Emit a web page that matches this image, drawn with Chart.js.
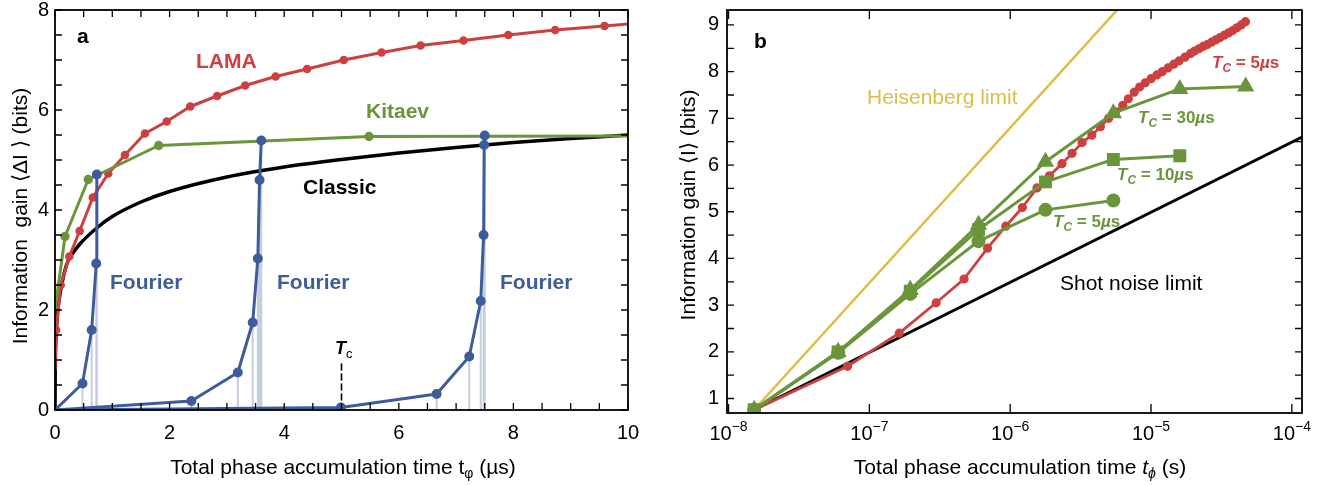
<!DOCTYPE html>
<html>
<head>
<meta charset="utf-8">
<title>Information gain vs total phase accumulation time</title>
<script src="https://cdn.jsdelivr.net/npm/chart.js@4.4.1/dist/chart.umd.min.js"></script>
<style>
    body { margin: 0; background: #fff; }
    #wrap { position: relative; width: 1340px; height: 485px; }
    canvas { position: absolute; top: 0; }
    #chart-a { left: 0; }
    #chart-b { left: 660px; }
</style>
</head>
<body>
<div id="wrap">
    <canvas id="chart-a" width="660" height="485"></canvas>
    <canvas id="chart-b" width="680" height="485"></canvas>
</div>
<script>
// ---- panel a data (time in µs, gain in bits) ----
const classicT    = [0, 0.005, 0.02, 0.05, 0.1, 0.2, 0.3, 0.45, 0.75, 1, 1.5, 2, 3, 4, 5, 6, 7, 8, 9, 10];
const classicGain = [0, 0.9, 1.5, 2.0, 2.4, 2.9, 3.12, 3.34, 3.66, 3.87, 4.16, 4.37, 4.66, 4.86, 5.01, 5.14, 5.25, 5.35, 5.43, 5.5];

const lamaT    = [0, 0.02, 0.1, 0.25, 0.43, 0.66, 0.93, 1.22, 1.57, 1.95, 2.36, 2.83, 3.32, 3.85, 4.4, 5.04, 5.7, 6.38, 7.13, 7.91, 8.73, 9.59, 10];
const lamaGain = [0.8, 1.6, 2.5, 3.07, 3.58, 4.25, 4.73, 5.1, 5.53, 5.77, 6.07, 6.28, 6.49, 6.67, 6.82, 7.0, 7.15, 7.29, 7.39, 7.5, 7.6, 7.68, 7.72];

const kitaevT    = [0, 0.175, 0.58, 1.81, 5.48, 10];
const kitaevGain = [2.0, 3.47, 4.61, 5.29, 5.47, 5.48];

const fourier1T    = [0, 0.48, 0.64, 0.72, 0.73];
const fourier1Gain = [0, 0.53, 1.6, 2.93, 4.71];
const fourier2T    = [0, 2.38, 3.19, 3.45, 3.54, 3.57, 3.6];
const fourier2Gain = [0, 0.18, 0.75, 1.75, 3.03, 4.6, 5.39];
const fourier3T    = [0, 4.99, 6.66, 7.23, 7.43, 7.48, 7.49, 7.5];
const fourier3Gain = [0, 0.05, 0.32, 1.07, 2.18, 3.5, 5.3, 5.49];

const tcTime = 5;
const tcMarkTop = 1.0;

// ---- panel b data (time in s, gain in bits) ----
const heisenbergT    = [1.52e-8, 1e-5];
const heisenbergGain = [0.76, 10.12];
const shotT    = [1.52e-8, 1.2e-4];
const shotGain = [0.76, 6.61];

const lamaBT = [1.52e-8, 7.0e-8, 1.63e-7, 2.98e-7, 4.7e-7, 6.9e-7, 9.3e-7, 1.22e-6, 1.55e-6, 1.9e-6,
    2.33e-6, 2.75e-6, 3.24e-6, 3.8e-6, 4.37e-6, 5.0e-6, 5.6e-6, 6.3e-6, 6.9e-6, 7.6e-6,
    8.3e-6, 9.1e-6, 1.0e-5, 1.1e-5, 1.2e-5, 1.32e-5, 1.45e-5, 1.58e-5, 1.74e-5, 1.91e-5,
    2.04e-5, 2.19e-5, 2.34e-5, 2.51e-5, 2.69e-5, 2.88e-5, 3.09e-5, 3.31e-5, 3.55e-5, 3.80e-5,
    4.07e-5, 4.37e-5, 4.68e-5];
const lamaBGain = [0.76, 1.69, 2.40, 3.05, 3.56, 4.22, 4.69, 5.09, 5.51, 5.77,
    6.03, 6.25, 6.48, 6.64, 6.82, 7.0, 7.14, 7.28, 7.42, 7.56,
    7.67, 7.76, 7.85, 7.93, 8.0, 8.08, 8.16, 8.23, 8.31, 8.39,
    8.44, 8.49, 8.54, 8.58, 8.63, 8.68, 8.73, 8.78, 8.83, 8.88,
    8.94, 9.0, 9.07];

const kitaevBT  = [1.52e-8, 6.0e-8, 1.95e-7, 5.96e-7, 1.78e-6, 5.4e-6, 1.6e-5, 4.7e-5];
const tc30Gain  = [0.76, 2.0, 3.33, 4.72, 6.07, 7.11, 7.63, 7.68];
const tc10Gain  = [0.76, 2.0, 3.3, 4.62, 5.64, 6.12, 6.2];
const tc5Gain   = [0.76, 1.98, 3.24, 4.37, 5.04, 5.24];

const decadeExponents = [-8, -7, -6, -5, -4];

// ---- look ----
const FONT = '"Liberation Sans", Arial, Helvetica, sans-serif';
const RED = '#cc4040';
const GREEN = '#6a953b';
const BLUE = '#3e5c9a';
const YELLOW = '#dcbd45';
const DROP = 'rgba(62, 92, 154, 0.3)';

Chart.defaults.font.family = FONT;
Chart.defaults.color = '#000';

const pts = (xs, ys) => ys.map((y, i) => ({ x: xs[i], y }));
const font = (size, style = '') => `${style} ${size}px ${FONT}`.trim();

// draw a run of text pieces (for sub/superscripts) starting at x, baseline y
function richText(ctx, x, y, parts, align = 'left') {
    let w = 0;
    parts.forEach(p => { ctx.font = p.font; w += ctx.measureText(p.t).width; });
    let cx = align === 'center' ? x - w / 2 : x;
    ctx.textAlign = 'left';
    ctx.textBaseline = 'alphabetic';
    parts.forEach(p => {
        ctx.font = p.font;
        ctx.fillText(p.t, cx, y + (p.dy || 0));
        cx += ctx.measureText(p.t).width;
    });
}

function tcLabel(value) {
    return [
        { t: 'T', font: font(17, 'italic bold') },
        { t: 'C', font: font(12, 'italic bold'), dy: 4 },
        { t: ' = ' + value, font: font(17, 'bold') },
        { t: 'µ', font: font(17, 'italic bold') },
        { t: 's', font: font(17, 'bold') }
    ];
}

// box frame with inward ticks on all four sides
function framePlugin(xLen, yLen) {
    return {
        id: 'frame',
        afterDatasetsDraw(chart) {
            const { ctx, chartArea: a, scales: { x, y } } = chart;
            ctx.save();
            ctx.strokeStyle = '#000';
            ctx.lineWidth = 1.3;
            ctx.beginPath();
            x.ticks.forEach(t => {
                const px = x.getPixelForValue(t.value);
                ctx.moveTo(px, a.bottom); ctx.lineTo(px, a.bottom - xLen);
                ctx.moveTo(px, a.top); ctx.lineTo(px, a.top + xLen);
            });
            y.ticks.forEach(t => {
                const py = y.getPixelForValue(t.value);
                ctx.moveTo(a.left, py); ctx.lineTo(a.left + yLen, py);
                ctx.moveTo(a.right, py); ctx.lineTo(a.right - yLen, py);
            });
            ctx.stroke();
            ctx.lineWidth = 1.8;
            ctx.strokeRect(a.left, a.top, a.right - a.left, a.bottom - a.top);
            ctx.restore();
        }
    };
}

function fixedAxis(size, isY) {
    return s => {
        if (isY) s.width = size; else s.height = size;
        s.paddingTop = 0; s.paddingBottom = 0; s.paddingLeft = 0; s.paddingRight = 0;
    };
}

const noGrid = { display: false, drawTicks: false };
const noBorder = { display: false };

// ---------------- panel a ----------------
const fourierRuns = [[fourier1T, fourier1Gain], [fourier2T, fourier2Gain], [fourier3T, fourier3Gain]];

const dropLines = {
    id: 'dropLines',
    beforeDatasetsDraw(chart) {
        const { ctx, scales: { x, y } } = chart;
        ctx.save();
        ctx.strokeStyle = DROP;
        ctx.lineWidth = 2;
        ctx.beginPath();
        fourierRuns.forEach(([ts, gs]) => ts.forEach((t, i) => {
            if (i === 0) return;
            const px = x.getPixelForValue(t);
            ctx.moveTo(px, y.getPixelForValue(gs[i]));
            ctx.lineTo(px, y.getPixelForValue(0));
        }));
        ctx.stroke();
        ctx.restore();
    }
};

const labelsA = {
    id: 'labelsA',
    afterDraw(chart) {
        const ctx = chart.ctx;
        ctx.save();
        ctx.fillStyle = '#000';
        richText(ctx, 77, 43, [{ t: 'a', font: font(21, 'bold') }]);
        ctx.fillStyle = RED;
        richText(ctx, 196, 68, [{ t: 'LAMA', font: font(21, 'bold') }]);
        ctx.fillStyle = GREEN;
        richText(ctx, 366, 118, [{ t: 'Kitaev', font: font(21, 'bold') }]);
        ctx.fillStyle = '#000';
        richText(ctx, 303, 194, [{ t: 'Classic', font: font(21, 'bold') }]);
        ctx.fillStyle = BLUE;
        [110, 277, 500].forEach(x => richText(ctx, x, 289, [{ t: 'Fourier', font: font(21, 'bold') }]));
        ctx.fillStyle = '#000';
        richText(ctx, 335, 354, [
            { t: 'T', font: font(18, 'italic bold') },
            { t: 'c', font: font(13), dy: 4 }
        ]);
        richText(ctx, 343, 474, [
            { t: 'Total phase accumulation time t', font: font(21) },
            { t: 'φ', font: font(14), dy: 4 },
            { t: ' (µs)', font: font(21) }
        ], 'center');
        ctx.translate(27, 216);
        ctx.rotate(-Math.PI / 2);
        richText(ctx, 0, 0, [{ t: 'Information  gain ⟨ΔI ⟩ (bits)', font: font(21) }], 'center');
        ctx.restore();
    }
};

new Chart(document.getElementById('chart-a'), {
    type: 'line',
    data: {
        datasets: [
            ...fourierRuns.map(([ts, gs], k) => ({
                label: 'Fourier ' + (k + 1),
                data: pts(ts, gs),
                borderColor: BLUE, backgroundColor: BLUE,
                borderWidth: 3,
                pointRadius: c => c.dataIndex === 0 ? 0 : 3.5,
                order: 1
            })),
            {
                label: 'Kitaev',
                data: pts(kitaevT, kitaevGain),
                borderColor: GREEN, backgroundColor: GREEN,
                borderWidth: 3,
                pointRadius: c => (c.dataIndex === 0 || c.dataIndex === kitaevT.length - 1) ? 0 : 3.2,
                order: 2
            },
            {
                label: 'LAMA',
                data: pts(lamaT, lamaGain),
                borderColor: RED, backgroundColor: RED,
                borderWidth: 3,
                pointRadius: c => (c.dataIndex === 0 || c.dataIndex === lamaT.length - 1) ? 0 : 2.8,
                order: 3
            },
            {
                label: 'Classic',
                data: pts(classicT, classicGain),
                borderColor: '#000',
                borderWidth: 3.5,
                pointRadius: 0,
                cubicInterpolationMode: 'monotone',
                order: 4
            },
            {
                label: 'Tc',
                data: pts([tcTime, tcTime], [0, tcMarkTop]),
                borderColor: '#000',
                borderWidth: 1.6,
                borderDash: [6, 4],
                pointRadius: 0,
                order: 5
            }
        ]
    },
    options: {
        responsive: false,
        animation: false,
        devicePixelRatio: 1,
        events: [],
        layout: { padding: { left: 0, right: 32, top: 10, bottom: 0 } },
        elements: { line: { borderJoinStyle: 'round', borderCapStyle: 'round', tension: 0 }, point: { borderWidth: 0 } },
        plugins: { legend: { display: false }, tooltip: { enabled: false } },
        scales: {
            x: {
                type: 'linear', min: 0, max: 10,
                grid: noGrid, border: noBorder,
                ticks: { stepSize: 0.5, autoSkip: false, maxRotation: 0, padding: 11, font: { size: 20 },
                    callback: v => v % 2 === 0 ? v : '' },
                afterFit: fixedAxis(75, false)
            },
            y: {
                type: 'linear', min: 0, max: 8,
                grid: noGrid, border: noBorder,
                ticks: { stepSize: 0.5, autoSkip: false, padding: 6, font: { size: 20 },
                    callback: v => v % 2 === 0 ? v : '' },
                afterFit: fixedAxis(55, true)
            }
        }
    },
    plugins: [dropLines, framePlugin(7, 7), labelsA]
});

// ---------------- panel b ----------------
const labelsB = {
    id: 'labelsB',
    afterDraw(chart) {
        const { ctx, scales: { x } } = chart;
        ctx.save();
        ctx.fillStyle = '#000';
        richText(ctx, 94, 48, [{ t: 'b', font: font(21, 'bold') }]);
        ctx.fillStyle = YELLOW;
        richText(ctx, 207, 104, [{ t: 'Heisenberg limit', font: font(21) }]);
        ctx.fillStyle = RED;
        richText(ctx, 552, 68, tcLabel('5'));
        ctx.fillStyle = GREEN;
        richText(ctx, 478, 123, tcLabel('30'));
        richText(ctx, 457, 180, tcLabel('10'));
        richText(ctx, 393, 227, tcLabel('5'));
        ctx.fillStyle = '#000';
        richText(ctx, 400, 290, [{ t: 'Shot noise limit', font: font(21) }]);

        // decade tick labels
        decadeExponents.forEach(e => {
            const px = x.getPixelForValue(Math.pow(10, e));
            richText(ctx, px, 440, [
                { t: '10', font: font(20) },
                { t: '−' + Math.abs(e), font: font(14), dy: -9 }
            ], 'center');
        });

        richText(ctx, 360, 474, [
            { t: 'Total phase accumulation time ', font: font(21) },
            { t: 't', font: font(21, 'italic') },
            { t: 'ϕ', font: font(14, 'italic'), dy: 4 },
            { t: ' (s)', font: font(21) }
        ], 'center');
        ctx.translate(35, 205);
        ctx.rotate(-Math.PI / 2);
        richText(ctx, 0, 0, [{ t: 'Information gain ⟨I⟩ (bits)', font: font(21) }], 'center');
        ctx.restore();
    }
};

const greenSeries = (label, gains, style, radius, order) => ({
    label,
    data: pts(kitaevBT, gains),
    borderColor: GREEN, backgroundColor: GREEN,
    borderWidth: 3,
    pointStyle: style,
    pointRadius: radius,
    order
});

new Chart(document.getElementById('chart-b'), {
    type: 'line',
    data: {
        datasets: [
            greenSeries('Tc = 30 µs', tc30Gain, 'triangle', 7, 1),
            greenSeries('Tc = 10 µs', tc10Gain, 'rect', 7, 2),
            greenSeries('Tc = 5 µs (Kitaev)', tc5Gain, 'circle', 5.5, 3),
            {
                label: 'LAMA Tc = 5 µs',
                data: pts(lamaBT, lamaBGain),
                borderColor: RED, backgroundColor: RED,
                borderWidth: 2.8,
                pointRadius: 3.2,
                order: 4
            },
            {
                label: 'Heisenberg limit',
                data: pts(heisenbergT, heisenbergGain),
                borderColor: YELLOW,
                borderWidth: 2.5,
                pointRadius: 0,
                order: 5
            },
            {
                label: 'Shot noise limit',
                data: pts(shotT, shotGain),
                borderColor: '#000',
                borderWidth: 3,
                pointRadius: 0,
                order: 6
            }
        ]
    },
    options: {
        responsive: false,
        animation: false,
        devicePixelRatio: 1,
        events: [],
        layout: { padding: { left: 0, right: 38, top: 10, bottom: 0 } },
        elements: { line: { borderJoinStyle: 'round', borderCapStyle: 'round', tension: 0 }, point: { borderWidth: 0 } },
        plugins: { legend: { display: false }, tooltip: { enabled: false } },
        scales: {
            x: {
                type: 'logarithmic', min: 0.975e-8, max: 1.18e-4,
                grid: noGrid, border: noBorder,
                ticks: { display: false },
                afterBuildTicks: s => { s.ticks = decadeExponents.map(e => ({ value: Math.pow(10, e) })); },
                afterFit: fixedAxis(72, false)
            },
            y: {
                type: 'linear', min: 0.69, max: 9.32,
                grid: noGrid, border: noBorder,
                ticks: { stepSize: 0.5, includeBounds: false, autoSkip: false, padding: 8, font: { size: 20 },
                    callback: v => Number.isInteger(v) ? v : '' },
                afterFit: fixedAxis(67, true)
            }
        }
    },
    plugins: [framePlugin(9, 7), labelsB]
});
</script>
</body>
</html>
